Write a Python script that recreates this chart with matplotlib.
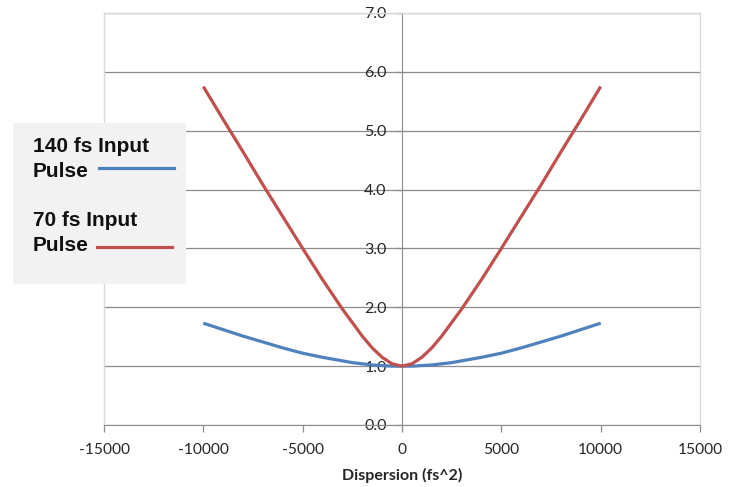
import matplotlib
matplotlib.use("Agg")
import matplotlib.pyplot as plt
from matplotlib.patches import Rectangle
from matplotlib.lines import Line2D
from matplotlib.ticker import FormatStrFormatter, MultipleLocator

plt.rcParams['axes.unicode_minus'] = False

# --- data ---
dispersion = [-10000, -9000, -8000, -7000, -6000, -5000, -4000, -3000, -2500, -2000,
              -1500, -1000, -500, 0, 500, 1000, 1500, 2000, 2500, 3000,
              4000, 5000, 6000, 7000, 8000, 9000, 10000]
pulse_140 = [1.73, 1.62, 1.51, 1.41, 1.31, 1.22, 1.15, 1.09, 1.06, 1.04,
             1.02, 1.01, 1.00, 1.00, 1.00, 1.01, 1.02, 1.04, 1.06, 1.09,
             1.15, 1.22, 1.31, 1.41, 1.51, 1.62, 1.73]
pulse_70 = [5.75, 5.19, 4.64, 4.08, 3.54, 3.00, 2.47, 1.97, 1.74, 1.51,
            1.31, 1.15, 1.04, 1.00, 1.04, 1.15, 1.31, 1.51, 1.74, 1.97,
            2.47, 3.00, 3.54, 4.08, 4.64, 5.19, 5.75]
labels = ["140 fs Input\nPulse", "70 fs Input\nPulse"]
colors = ["#4F81BD", "#C0504D"]

fig = plt.figure(figsize=(7.37, 4.87), dpi=100)
ax = fig.add_axes([104/737, 1 - 425/487, 596/737, 412/487])

# curves
ax.plot(dispersion, pulse_140, color=colors[0], lw=2.3, solid_capstyle='butt', zorder=3)
ax.plot(dispersion, pulse_70, color=colors[1], lw=2.3, solid_capstyle='butt', zorder=3)

ax.set_xlim(-15000, 15000)
ax.set_ylim(0, 7)
ax.xaxis.set_major_locator(MultipleLocator(5000))
ax.yaxis.set_major_locator(MultipleLocator(1))
ax.yaxis.set_major_formatter(FormatStrFormatter('%.1f'))

# horizontal gridlines
ax.grid(axis='y', color='#8c8c8c', lw=0.9)
ax.grid(axis='x', visible=False)
ax.set_axisbelow(True)

# spines: y axis at x=0, light border around the plot area
ax.spines['left'].set_position(('data', 0))
ax.spines['left'].set_color('#8c8c8c')
ax.spines['bottom'].set_color('#8c8c8c')
for s in ['top', 'right']:
    ax.spines[s].set_color('#d9d9d9')
    ax.spines[s].set_linewidth(1.0)
# left border of the plot area
ax.plot([0, 0], [0, 1], transform=ax.transAxes, color='#d9d9d9', lw=1.0, clip_on=False)

ax.tick_params(axis='x', direction='out', length=5, width=0.9, color='#8c8c8c',
               pad=8, labelcolor='#262626', labelsize=11.2)
ax.tick_params(axis='y', direction='out', length=5, width=0.9, color='#8c8c8c',
               pad=6, labelcolor='#262626', labelsize=11.5)
for t in ax.get_xticklabels() + ax.get_yticklabels():
    t.set_family(['Lato', 'DejaVu Sans'])

ax.set_xlabel("Dispersion (fs^2)", family=['Lato', 'DejaVu Sans'], fontweight='bold',
              fontsize=11.5, color='#262626', labelpad=8)

# --- legend box drawn by hand (Excel style, text left, line right) ---
W, H = 737, 487
fig.patches.append(Rectangle((13/W, 1 - 284/H), 173/W, 161/H, transform=fig.transFigure,
                             facecolor='#f2f2f2', edgecolor='none', zorder=5))
legend_font = dict(family=['Liberation Sans', 'DejaVu Sans'], fontweight='bold',
                   fontsize=15, color='#111111', linespacing=1.38, zorder=6)
text_tops = [137, 211]
line_rows = [(99, 174, 168), (97, 172, 247)]
for lab, col, top, (x0, x1, yl) in zip(labels, colors, text_tops, line_rows):
    fig.text(33/W, 1 - top/H, lab, ha='left', va='top', **legend_font)
    fig.lines.append(Line2D([x0/W, x1/W], [1 - yl/H, 1 - yl/H], transform=fig.transFigure,
                            color=col, lw=2.3, zorder=6))

fig.savefig("out.png", dpi=100)
